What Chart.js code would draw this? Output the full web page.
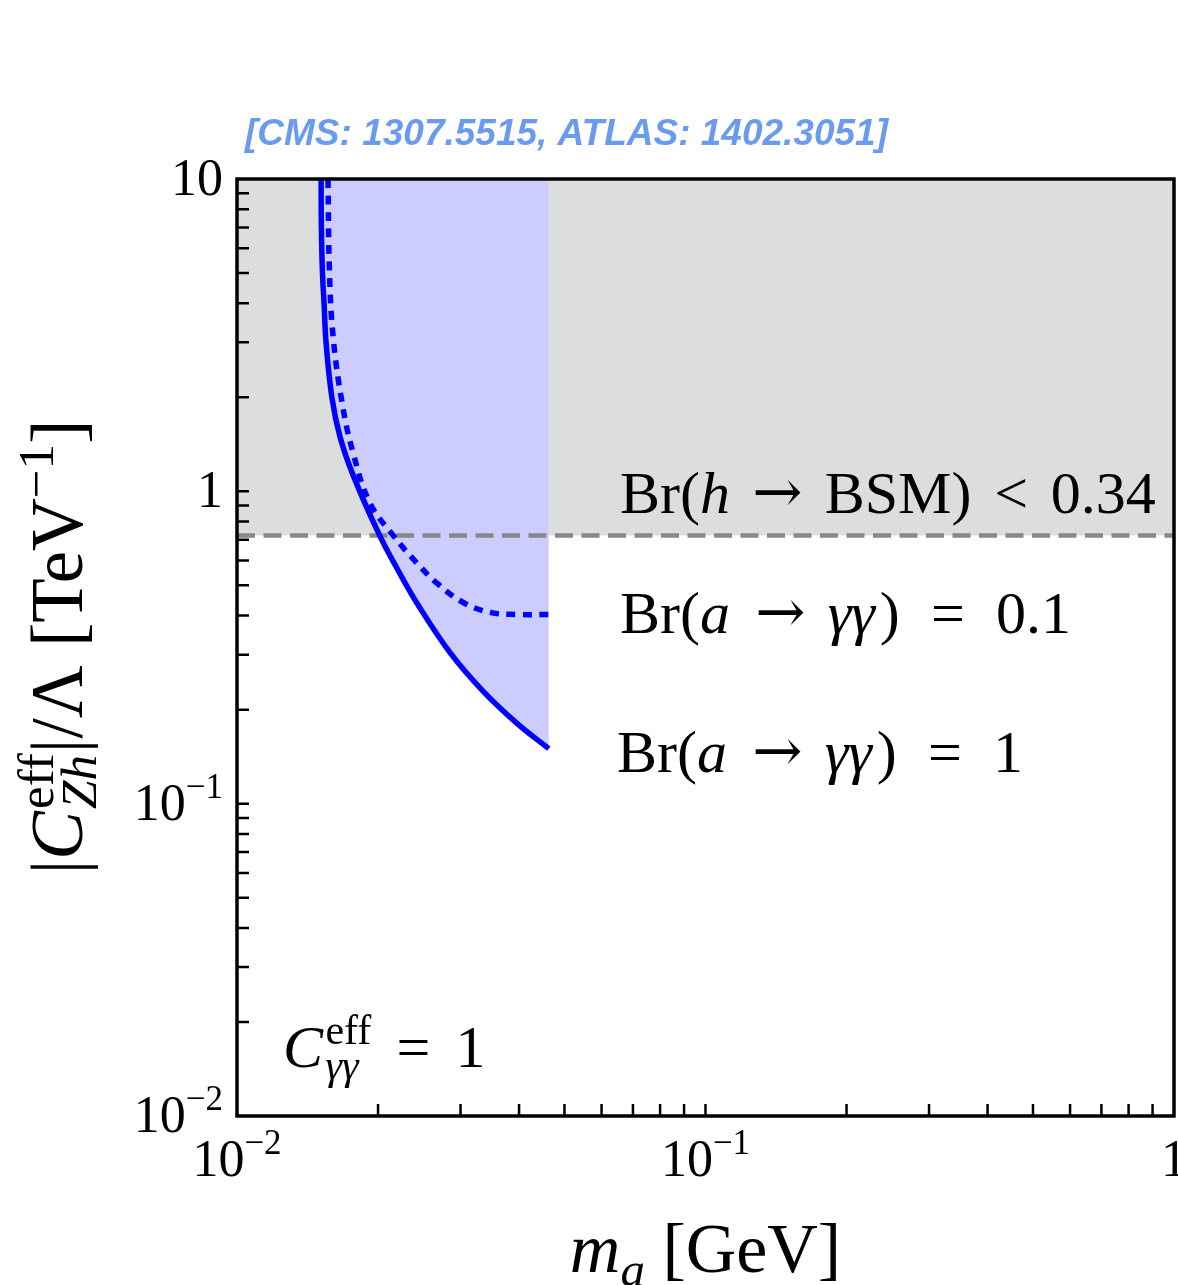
<!DOCTYPE html>
<html>
<head>
<meta charset="utf-8">
<script src="https://cdn.jsdelivr.net/npm/chart.js@4.4.1/dist/chart.umd.min.js"></script>
<style>
  html, body { margin: 0; padding: 0; background: #fff; }
  #wrap { width: 1178px; height: 1285px; }
</style>
</head>
<body>
<div id="wrap"><canvas id="plot" width="1178" height="1285"></canvas></div>
<script>
// Br(a -> gamma gamma) = 1 boundary (solid)
const solidMass = [0.01512, 0.01514, 0.01522, 0.01534, 0.01549, 0.01594, 0.0166, 0.0177, 0.02011, 0.02208, 0.02424, 0.02852, 0.03354, 0.03965, 0.0463];
const solidCoupling = [10, 7.0, 5.0, 4.0, 3.0, 2.0, 1.49, 1.125, 0.728, 0.558, 0.4375, 0.304, 0.229, 0.1805, 0.150];

// Br(a -> gamma gamma) = 0.1 boundary (dotted)
const dottedMass = [0.01564, 0.01575, 0.01604, 0.01677, 0.0177, 0.01924, 0.02154, 0.02424, 0.02676, 0.0304, 0.0347, 0.03965, 0.0463];
const dottedCoupling = [10, 5.11, 3.12, 1.914, 1.324, 0.915, 0.723, 0.588, 0.507, 0.4406, 0.4095, 0.4034, 0.4034];

// Br(h -> BSM) < 0.34 exclusion line
const limitMass = [0.01, 1];
const limitCoupling = [0.722, 0.722];

const xRange = [0.01, 1];
const yRange = [0.01, 10];
const xDecades = [0.01, 0.1, 1];
const xDecadeLabels = [['10', '\u22122'], ['10', '\u22121'], ['1', '']];
const yDecades = [0.01, 0.1, 1, 10];
const yDecadeLabels = [['10', '\u22122'], ['10', '\u22121'], ['1', ''], ['10', '']];
const minorSteps = [2, 3, 4, 5, 6, 7, 8, 9];

const SERIF = '"Liberation Serif", "Times New Roman", serif';
const SYMBOL = '"DejaVu Serif", serif';
const TICK = 12;

function pts(xs, ys) {
  return xs.map((v, i) => ({ x: v, y: ys[i] }));
}

function setFont(ctx, size, italic, family) {
  ctx.font = (italic ? 'italic ' : '') + size + 'px ' + (family || SERIF);
}

// width of one piece of a formula; pieces are plain runs or stacked sup/sub pairs
function partWidth(ctx, p) {
  const pad = ((p.padL || 0) + (p.padR || 0)) * p.size;
  if (p.sup !== undefined || p.sub !== undefined) {
    let w1 = 0, w2 = 0;
    if (p.sup) { setFont(ctx, p.size, p.supItalic); w1 = ctx.measureText(p.sup).width; }
    if (p.sub) { setFont(ctx, p.size, p.subItalic); w2 = ctx.measureText(p.sub).width; }
    return Math.max(w1, w2) + pad;
  }
  setFont(ctx, p.size, p.italic, p.family);
  return ctx.measureText(p.text).width + pad;
}

function formulaWidth(ctx, parts) {
  return parts.reduce((s, p) => s + partWidth(ctx, p), 0);
}

function drawFormula(ctx, parts, x, y) {
  ctx.textAlign = 'left';
  ctx.textBaseline = 'alphabetic';
  for (const p of parts) {
    const w = partWidth(ctx, p);
    const x0 = x + (p.padL || 0) * p.size;
    if (p.sup !== undefined || p.sub !== undefined) {
      if (p.sup) { setFont(ctx, p.size, p.supItalic); ctx.fillText(p.sup, x0, y + p.supDy); }
      if (p.sub) { setFont(ctx, p.size, p.subItalic); ctx.fillText(p.sub, x0, y + p.subDy); }
    } else {
      setFont(ctx, p.size, p.italic, p.family);
      ctx.fillText(p.text, x0, y + (p.dy || 0));
    }
    x += w;
  }
}

function tickLabel(base, exp) {
  const parts = [{ text: base, size: 52 }];
  if (exp) parts.push({ text: exp, size: 35, dy: -22 });
  return parts;
}

const A = 60, S = 42;
const arrow = { text: '\u2192', size: A, family: SYMBOL, padL: 0.37, padR: 0.37, dy: -1 };
const noteLimit = [
  { text: 'Br(', size: A }, { text: 'h', size: A, italic: true },
  arrow,
  { text: 'BSM)', size: A }, { text: '<', size: A, padL: 0.38, padR: 0.38 },
  { text: '0.34', size: A }
];
function noteBr(value) {
  return [
    { text: 'Br(', size: A }, { text: 'a', size: A, italic: true, padR: 0.05 },
    arrow,
    { text: '\u03b3\u03b3', size: A, italic: true, padR: 0.08 }, { text: ')', size: A },
    { text: '=', size: A, padL: 0.52, padR: 0.52 }, { text: value, size: A }
  ];
}
const noteCoupling = [
  { text: 'C', size: A, italic: true, padR: 0.04 },
  { sup: 'eff', sub: '\u03b3\u03b3', subItalic: true, size: S, supDy: -23, subDy: 12 },
  { text: '=', size: A, padL: 0.42, padR: 0.42 }, { text: '1', size: A }
];

const T = 70, TS = 49;
const TY = 73, TYS = 51;
const yTitle = [
  { text: '|', size: TY }, { text: 'C', size: TY, italic: true, padR: 0.03 },
  { sup: 'eff', sub: 'Zh', subItalic: true, size: TYS, supDy: -29, subDy: 14 },
  { text: '|/\u039b [TeV', size: TY },
  { text: '\u22121', size: TYS, dy: -29 },
  { text: ']', size: TY }
];
const xTitle = [
  { text: 'm', size: T, italic: true }, { text: 'a', size: TS, italic: true, dy: 14 },
  { text: ' [GeV]', size: T }
];

const framePlugin = {
  id: 'frame',
  afterDraw(chart) {
    const { ctx, chartArea: a, scales } = chart;
    const xs = scales.x, ys = scales.y;
    ctx.save();
    ctx.strokeStyle = '#000';
    ctx.fillStyle = '#000';

    // inward tick marks on the left and bottom axes
    ctx.lineWidth = 2.5;
    ctx.beginPath();
    for (const d of yDecades) {
      for (const m of [1].concat(minorSteps)) {
        const v = d * m;
        if (v <= yRange[0] || v >= yRange[1]) continue;
        const py = ys.getPixelForValue(v);
        ctx.moveTo(a.left, py); ctx.lineTo(a.left + TICK, py);
      }
    }
    for (const d of xDecades) {
      for (const m of [1].concat(minorSteps)) {
        const v = d * m;
        if (v <= xRange[0] || v >= xRange[1]) continue;
        const px = xs.getPixelForValue(v);
        ctx.moveTo(px, a.bottom); ctx.lineTo(px, a.bottom - TICK);
      }
    }
    ctx.stroke();

    ctx.lineWidth = 3.5;
    ctx.strokeRect(a.left, a.top, a.right - a.left, a.bottom - a.top);

    // decade labels
    yDecades.forEach((v, i) => {
      const parts = tickLabel(yDecadeLabels[i][0], yDecadeLabels[i][1]);
      const w = formulaWidth(ctx, parts);
      drawFormula(ctx, parts, a.left - 14 - w, ys.getPixelForValue(v) + 16);
    });
    xDecades.forEach((v, i) => {
      const parts = tickLabel(xDecadeLabels[i][0], xDecadeLabels[i][1]);
      const w = formulaWidth(ctx, parts);
      drawFormula(ctx, parts, xs.getPixelForValue(v) - w / 2, a.bottom + 60);
    });

    // in-plot annotations
    drawFormula(ctx, noteLimit, 620, 513);
    drawFormula(ctx, noteBr('0.1'), 620, 633);
    drawFormula(ctx, noteBr('1'), 617, 772);
    drawFormula(ctx, noteCoupling, 283, 1067);

    // axis titles
    const wx = formulaWidth(ctx, xTitle);
    drawFormula(ctx, xTitle, (a.left + a.right) / 2 - wx / 2, 1272);
    const wy = formulaWidth(ctx, yTitle);
    ctx.save();
    ctx.translate(82, 647);
    ctx.rotate(-Math.PI / 2);
    drawFormula(ctx, yTitle, -wy / 2, 0);
    ctx.restore();

    // reference line above the frame
    ctx.font = 'italic bold 37px "Liberation Sans", Arial, sans-serif';
    ctx.fillStyle = '#6a9bef';
    ctx.textAlign = 'left';
    ctx.fillText('[CMS: 1307.5515, ATLAS: 1402.3051]', 245, 145);
    ctx.restore();
  }
};

new Chart(document.getElementById('plot'), {
  type: 'line',
  data: {
    datasets: [
      {
        label: 'Br(a\u2192\u03b3\u03b3) = 1',
        data: pts(solidMass, solidCoupling),
        borderColor: '#0000ff',
        borderWidth: 5.5,
        backgroundColor: '#ccccff',
        fill: 'end',
        tension: 0.4,
        pointRadius: 0
      },
      {
        label: 'Br(a\u2192\u03b3\u03b3) = 0.1',
        data: pts(dottedMass, dottedCoupling),
        borderColor: '#0000ff',
        borderWidth: 5.5,
        borderDash: [9, 7.5],
        fill: false,
        tension: 0.4,
        pointRadius: 0
      },
      {
        label: 'Br(h\u2192BSM) < 0.34',
        data: pts(limitMass, limitCoupling),
        borderColor: '#888888',
        borderWidth: 4.5,
        borderDash: [18, 8.5],
        backgroundColor: '#dcdddf',
        fill: 'end',
        tension: 0,
        pointRadius: 0
      }
    ]
  },
  options: {
    responsive: false,
    animation: false,
    devicePixelRatio: 1,
    layout: { padding: { left: 237, right: 4, top: 179, bottom: 169 } },
    plugins: {
      legend: { display: false },
      tooltip: { enabled: false },
      filler: { drawTime: 'beforeDatasetsDraw', propagate: false }
    },
    scales: {
      x: { type: 'logarithmic', min: xRange[0], max: xRange[1], display: false },
      y: { type: 'logarithmic', min: yRange[0], max: yRange[1], display: false }
    }
  },
  plugins: [framePlugin]
});
</script>
</body>
</html>
